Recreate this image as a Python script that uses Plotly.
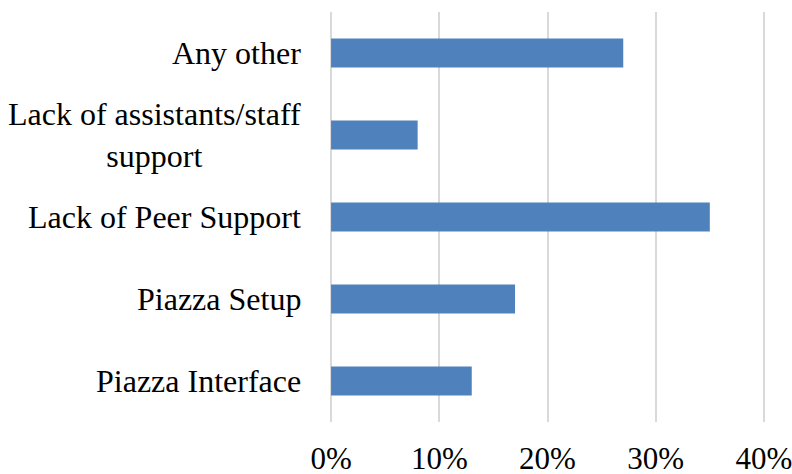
import plotly.graph_objects as go

categories = ["Piazza Interface", "Piazza Setup", "Lack of Peer Support",
              "Lack of assistants/staff support", "Any other"]
label_text = ["Piazza Interface", "Piazza Setup", "Lack of Peer Support",
              "Lack of assistants/staff<br>support", "Any other"]
values = [0.13, 0.17, 0.35, 0.08, 0.27]
tick_vals = [0, 0.1, 0.2, 0.3, 0.4]
tick_text = ["0%", "10%", "20%", "30%", "40%"]

FONT = "Liberation Serif"
FS = 32
TICK_FS = 31

fig = go.Figure(go.Bar(
    y=categories, x=values, orientation="h",
    marker=dict(color="#4f81bd", line=dict(width=0)),
))

annotations = []
for cat, txt in zip(categories, label_text):
    annotations.append(dict(
        x=0, xref="paper", y=cat, yref="y", text=txt, showarrow=False,
        xanchor="right", yanchor="middle", align="center", xshift=-27,
        font=dict(family=FONT, size=FS, color="black"),
    ))

fig.update_layout(
    width=792, height=474,
    margin=dict(l=330, r=27, t=12, b=52, autoexpand=False),
    paper_bgcolor="white", plot_bgcolor="white",
    bargap=0.646,
    showlegend=False,
    annotations=annotations,
    font=dict(family=FONT, size=FS, color="black"),
    xaxis=dict(
        range=[-0.001, 0.401], tickvals=tick_vals, ticktext=tick_text,
        showgrid=True, gridcolor="#d9d9d9", gridwidth=2,
        zeroline=False, showline=False, ticks="",
        automargin=False,
        ticklabelstandoff=15,
        ticklabeloverflow="allow",
        tickfont=dict(family=FONT, size=TICK_FS, color="black"),
    ),
    yaxis=dict(
        categoryorder="array", categoryarray=categories,
        showticklabels=False, showgrid=False, zeroline=False, showline=False,
        ticks="", automargin=False,
    ),
)

fig.write_html("out.html", config={"displayModeBar": False},
               post_script="document.body.style.margin='0';document.body.style.padding='0';")
